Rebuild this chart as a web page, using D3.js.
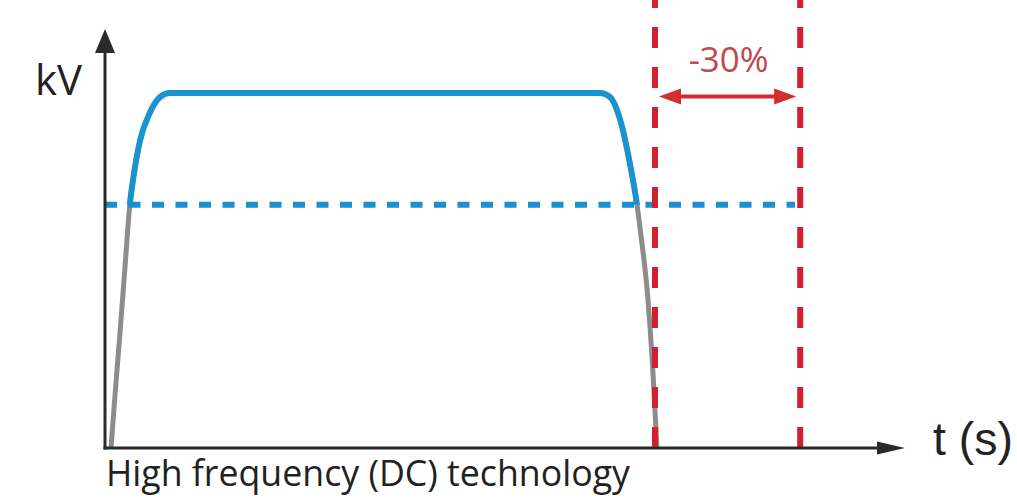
<!DOCTYPE html>
<html>
<head>
<meta charset="utf-8">
<script src="https://cdn.jsdelivr.net/npm/d3@7"></script>
<style>
  html, body { margin: 0; padding: 0; background: #fff; }
  svg { display: block; }
</style>
</head>
<body>
<svg id="chart"></svg>
<script>
// voltage curve of the high frequency (DC) unit, t in % of the old cycle, kV in % of plateau
const curveT  = [0.75, 1.3, 1.9, 2.5, 3.1, 3.5, 4.4, 5.6, 6.9, 8.1, 61.9, 63.1, 64.4, 65.6, 66.5, 67.1, 67.75, 68.45, 69.0];
const curveKV = [0,   16.3, 33.2, 51.0, 68.5, 75.5, 86.8, 94.4, 98.9, 100, 100, 98.9, 92.4, 80.3, 68.5, 58.0, 45.0, 23.0, 0];
const thresholdKV = 68.5;        // blue dashed level
const thresholdEndT = 86.25;
const cycleEnds = [68.75, 86.9]; // red dashed markers
const reductionLabel = '-30%';
const yLabel = 'kV';
const xLabel = 't (s)';
const caption = 'High frequency (DC) technology';

const width = 1017, height = 499;
const svg = d3.select('#chart').attr('width', width).attr('height', height);

const x = d3.scaleLinear().domain([0, 100]).range([105, 905]);
const y = d3.scaleLinear().domain([0, 100]).range([448, 93]);
const yTop = 118;

const curve = curveT.map((t, i) => ({ t: t, kv: curveKV[i] }));

const line = d3.line()
  .x(d => x(d.t))
  .y(d => y(d.kv))
  .curve(d3.curveMonotoneX);

// blue only above the dashed level
svg.append('defs').append('clipPath').attr('id', 'above')
  .append('rect')
  .attr('x', 0).attr('y', 0)
  .attr('width', width).attr('height', y(thresholdKV));

// gray part (whole curve, blue drawn over it)
svg.append('path')
  .datum(curve)
  .attr('d', line)
  .attr('fill', 'none')
  .attr('stroke', '#8c8c8c')
  .attr('stroke-width', 5);

svg.append('path')
  .datum(curve)
  .attr('d', line)
  .attr('fill', 'none')
  .attr('stroke', '#1a93cf')
  .attr('stroke-width', 6)
  .attr('stroke-linejoin', 'round')
  .attr('clip-path', 'url(#above)');

// threshold dashed line
svg.append('line')
  .attr('x1', x(0)).attr('x2', x(thresholdEndT))
  .attr('y1', y(thresholdKV)).attr('y2', y(thresholdKV))
  .attr('stroke', '#1c8fd0')
  .attr('stroke-width', 6)
  .attr('stroke-dasharray', '12,11.5');

// red cycle markers
svg.selectAll('.marker')
  .data(cycleEnds)
  .enter()
  .append('line')
  .attr('class', 'marker')
  .attr('x1', d => x(d)).attr('x2', d => x(d))
  .attr('y1', y(0)).attr('y2', 0)
  .attr('stroke', '#d3202e')
  .attr('stroke-width', 6)
  .attr('stroke-dasharray', '21,19');

// axes with arrows
const axisColor = '#2a2a2a';
svg.append('line')
  .attr('x1', x(0)).attr('x2', x(0))
  .attr('y1', y(0) + 1.5).attr('y2', y(yTop) + 20)
  .attr('stroke', axisColor).attr('stroke-width', 3);
svg.append('path')
  .attr('d', `M${x(0)},${y(yTop)} L${x(0) - 10},${y(yTop) + 24} L${x(0) + 10},${y(yTop) + 24} Z`)
  .attr('fill', axisColor);

svg.append('line')
  .attr('x1', x(0) - 1.5).attr('x2', x(100) - 20)
  .attr('y1', y(0)).attr('y2', y(0))
  .attr('stroke', axisColor).attr('stroke-width', 3);
svg.append('path')
  .attr('d', `M${x(100)},${y(0)} L${x(100) - 28},${y(0) - 6.5} L${x(100) - 28},${y(0) + 6.5} Z`)
  .attr('fill', axisColor);

// -30% double arrow
const arrowY = y(99);
const red = '#d42d2d';
const ax1 = x(cycleEnds[0]) + 4, ax2 = x(cycleEnds[1]) - 4;
svg.append('line')
  .attr('x1', ax1 + 15).attr('x2', ax2 - 15)
  .attr('y1', arrowY).attr('y2', arrowY)
  .attr('stroke', red).attr('stroke-width', 4);
svg.append('path')
  .attr('d', `M${ax1},${arrowY} L${ax1 + 22},${arrowY - 8} L${ax1 + 22},${arrowY + 8} Z`)
  .attr('fill', red);
svg.append('path')
  .attr('d', `M${ax2},${arrowY} L${ax2 - 22},${arrowY - 8} L${ax2 - 22},${arrowY + 8} Z`)
  .attr('fill', red);

function fitText(sel, w) {
  const len = sel.node().getComputedTextLength();
  const fs = parseFloat(sel.attr('font-size'));
  sel.attr('font-size', fs * w / len);
}

const pct = svg.append('text')
  .attr('x', (x(cycleEnds[0]) + x(cycleEnds[1])) / 2 + 1)
  .attr('y', 72)
  .attr('text-anchor', 'middle')
  .attr('font-family', 'Open Sans, sans-serif')
  .attr('font-size', 28)
  .attr('fill', '#c4474b')
  .text(reductionLabel);
fitText(pct, 80);

const kv = svg.append('text')
  .attr('x', 35).attr('y', 95)
  .attr('font-family', 'Open Sans, sans-serif')
  .attr('font-size', 42)
  .attr('fill', '#222')
  .text(yLabel);
fitText(kv, 47);

const ts = svg.append('text')
  .attr('x', 933).attr('y', 455)
  .attr('font-family', 'Liberation Sans, Arial, sans-serif')
  .attr('font-size', 42)
  .attr('fill', '#222')
  .text(xLabel);
fitText(ts, 80);

const cap = svg.append('text')
  .attr('x', 106).attr('y', 486)
  .attr('font-family', 'Open Sans, sans-serif')
  .attr('font-size', 36)
  .attr('fill', '#222')
  .text(caption);
fitText(cap, 524);
</script>
</body>
</html>
